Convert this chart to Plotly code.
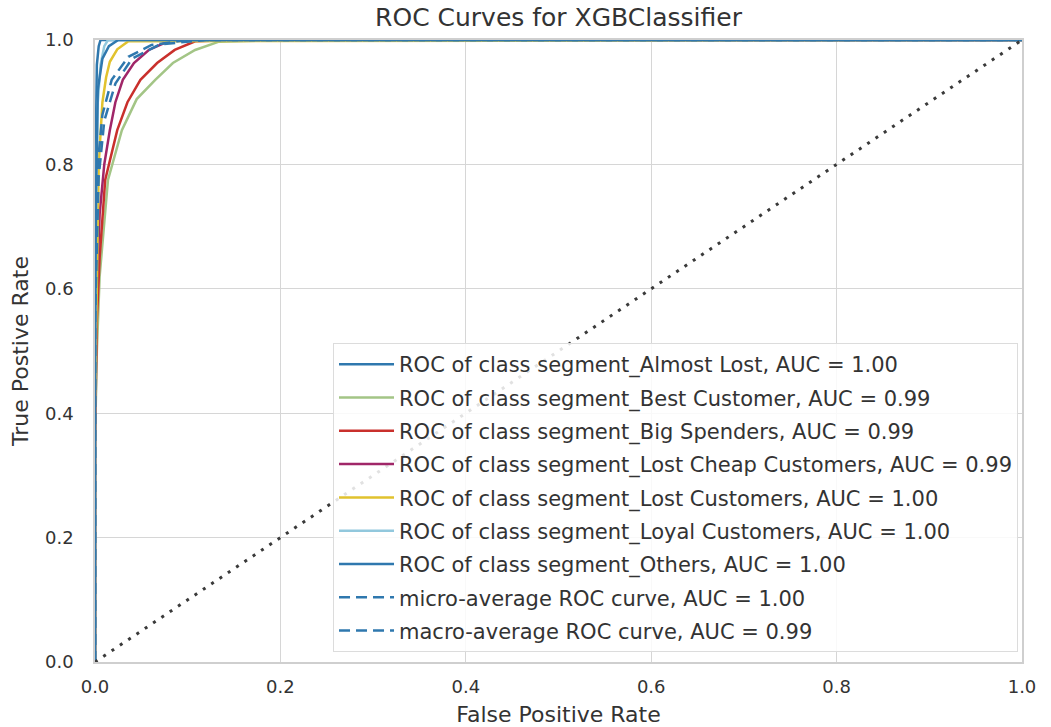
import plotly.graph_objects as go

# ROC curves per class (false positive rate, true positive rate)
class_names = [
    "segment_Almost Lost",
    "segment_Best Customer",
    "segment_Big Spenders",
    "segment_Lost Cheap Customers",
    "segment_Lost Customers",
    "segment_Loyal Customers",
    "segment_Others",
]
class_auc = [1.00, 0.99, 0.99, 0.99, 1.00, 1.00, 1.00]

fpr_almost_lost = [0, 0, 0.001, 0.002, 0.004, 0.006, 1.0]
tpr_almost_lost = [0, 0.45, 0.85, 0.96, 0.99, 1.0, 1.0]

fpr_best = [0, 0, 0.002, 0.005, 0.014, 0.029, 0.045, 0.065, 0.084, 0.108, 0.133, 0.2, 1.0]
tpr_best = [0, 0.35, 0.5, 0.62, 0.775, 0.855, 0.905, 0.936, 0.963, 0.984, 0.997, 1.0, 1.0]

fpr_big = [0, 0, 0.002, 0.005, 0.011, 0.024, 0.035, 0.049, 0.067, 0.086, 0.108, 0.15, 1.0]
tpr_big = [0, 0.35, 0.55, 0.65, 0.775, 0.855, 0.9, 0.936, 0.963, 0.984, 0.998, 1.0, 1.0]

fpr_lost_cheap = [0, 0, 0.002, 0.005, 0.01, 0.016, 0.022, 0.03, 0.042, 0.058, 0.079, 0.1, 1.0]
tpr_lost_cheap = [0, 0.4, 0.6, 0.72, 0.8, 0.855, 0.9, 0.936, 0.963, 0.984, 0.998, 1.0, 1.0]

fpr_lost = [0, 0, 0.002, 0.004, 0.008, 0.012, 0.016, 0.024, 0.036, 1.0]
tpr_lost = [0, 0.4, 0.6, 0.8, 0.9, 0.94, 0.965, 0.985, 0.998, 1.0]

fpr_loyal = [0, 0, 0.001, 0.003, 0.006, 0.01, 0.014, 1.0]
tpr_loyal = [0, 0.45, 0.7, 0.9, 0.96, 0.99, 1.0, 1.0]

fpr_others = [0, 0, 0.001, 0.003, 0.008, 0.015, 0.025, 1.0]
tpr_others = [0, 0.45, 0.75, 0.92, 0.97, 0.99, 1.0, 1.0]

# Averaged curves
micro_auc = 1.00
fpr_micro = [0, 0, 0.003, 0.008, 0.018, 0.036, 0.061, 0.1, 1.0]
tpr_micro = [0, 0.6, 0.8, 0.88, 0.936, 0.973, 0.992, 1.0, 1.0]

macro_auc = 0.99
fpr_macro = [0, 0, 0.004, 0.01, 0.022, 0.04, 0.07, 0.12, 1.0]
tpr_macro = [0, 0.55, 0.78, 0.87, 0.93, 0.97, 0.993, 1.0, 1.0]

class_fpr = [fpr_almost_lost, fpr_best, fpr_big, fpr_lost_cheap, fpr_lost, fpr_loyal, fpr_others]
class_tpr = [tpr_almost_lost, tpr_best, tpr_big, tpr_lost_cheap, tpr_lost, tpr_loyal, tpr_others]
class_colors = ["#2f78ae", "#a3c586", "#c9302c", "#a02668", "#e1c22e", "#92c8dd", "#2f78ae"]
avg_color = "#2f78ae"

axis_ticks = [0.0, 0.2, 0.4, 0.6, 0.8, 1.0]
text_color = "#333333"
font_family = "DejaVu Sans"

fig = go.Figure()

for i, name in enumerate(class_names):
    fig.add_trace(go.Scatter(
        x=class_fpr[i], y=class_tpr[i], mode="lines",
        line=dict(color=class_colors[i], width=2.5),
        name=f"ROC of class {name}, AUC = {class_auc[i]:.2f}",
        legendgroup=f"g{i}",
    ))

fig.add_trace(go.Scatter(
    x=fpr_micro, y=tpr_micro, mode="lines",
    line=dict(color=avg_color, width=2.5, dash="11px,6px"),
    name=f"micro-average ROC curve, AUC = {micro_auc:.2f}",
    legendgroup="micro",
))
fig.add_trace(go.Scatter(
    x=fpr_macro, y=tpr_macro, mode="lines",
    line=dict(color=avg_color, width=2.5, dash="11px,6px"),
    name=f"macro-average ROC curve, AUC = {macro_auc:.2f}",
    legendgroup="macro",
))

# chance diagonal
fig.add_trace(go.Scatter(
    x=[0, 1], y=[0, 1], mode="lines",
    line=dict(color="#3a3a3a", width=3, dash="3px,7px"),
    showlegend=False, hoverinfo="skip",
))

axis_common = dict(
    range=[0, 1], tickvals=axis_ticks,
    ticktext=[f"{v:.1f}" for v in axis_ticks],
    showgrid=True, gridcolor="#d6d6d6", gridwidth=1,
    showline=True, linecolor="#cfcfcf", linewidth=1.5, mirror=True,
    zeroline=False, ticks="",
    tickfont=dict(family=font_family, size=18, color=text_color),
    automargin=False,
)

fig.update_layout(
    width=1051, height=727,
    margin=dict(l=95, r=29, t=40, b=65),
    paper_bgcolor="white", plot_bgcolor="white",
    font=dict(family=font_family, color=text_color),
    title=dict(
        text="ROC Curves for XGBClassifier",
        x=0.5, xref="paper", xanchor="center",
        y=1 - 17 / 727, yanchor="middle",
        font=dict(family=font_family, size=25, color=text_color),
    ),
    xaxis=dict(
        **axis_common,
        title=dict(text="False Positive Rate", standoff=10,
                   font=dict(family=font_family, size=22, color=text_color)),
        ticklabelstandoff=8,
    ),
    yaxis=dict(
        **axis_common,
        title=dict(text="True Postive Rate", standoff=10,
                   font=dict(family=font_family, size=22, color=text_color)),
        ticklabelstandoff=16,
    ),
    legend=dict(
        x=0.9957, y=0.016, xanchor="right", yanchor="bottom",
        bgcolor="rgba(255,255,255,0.85)", bordercolor="#dcdcdc", borderwidth=1,
        font=dict(family=font_family, size=21, color=text_color),
        tracegroupgap=3, itemwidth=55,
    ),
    showlegend=True,
)

fig.write_html("out.html")
